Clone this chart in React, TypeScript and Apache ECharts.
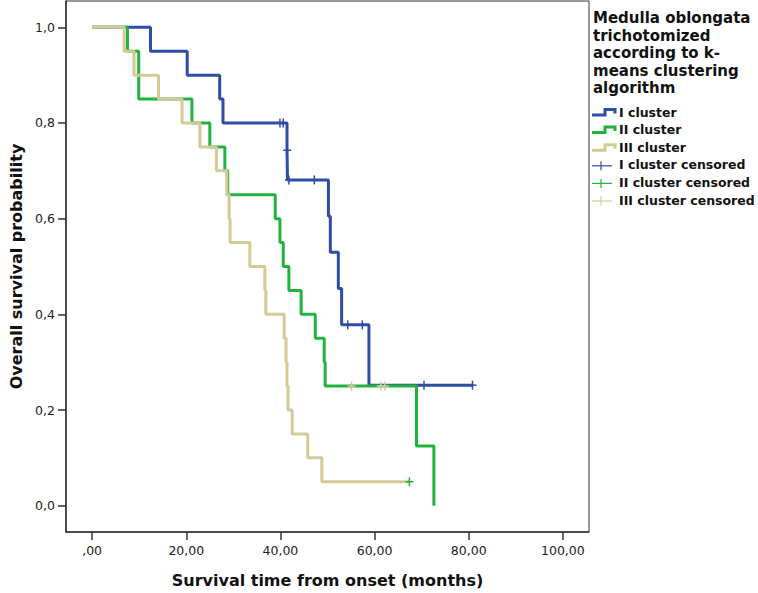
import React, { useEffect, useRef } from "react";
import * as echarts from "echarts";

// ---- data ----
const xTicks = [0, 20, 40, 60, 80, 100];
const yTicks = [0, 0.2, 0.4, 0.6, 0.8, 1.0];

const seriesNames = ["I cluster", "II cluster", "III cluster"];
const censorNames = ["I cluster censored", "II cluster censored", "III cluster censored"];
const legendTitle = ["Medulla oblongata", "trichotomized", "according to k-", "means clustering", "algorithm"];

// [time (months), survival probability]
const clusterI = [
  [0, 1], [12.4, 0.95], [20.2, 0.9], [27.1, 0.85], [27.8, 0.8], [41.4, 0.743], [41.5, 0.681],
  [50.2, 0.605], [50.6, 0.53], [52.3, 0.454], [53.0, 0.378], [58.8, 0.252], [80.8, 0.252],
];
const clusterII = [
  [0, 1], [7.5, 0.95], [9.9, 0.85], [21.2, 0.8], [25.0, 0.75], [28.2, 0.7], [28.8, 0.65],
  [38.9, 0.6], [39.9, 0.55], [40.6, 0.5], [41.8, 0.45], [44.4, 0.4], [47.4, 0.35], [49.3, 0.3],
  [49.5, 0.25], [68.9, 0.125], [72.6, 0],
];
const clusterIII = [
  [0, 1], [6.8, 0.95], [8.9, 0.9], [14.1, 0.85], [19.1, 0.8], [22.9, 0.75], [26.4, 0.7],
  [28.6, 0.65], [29.1, 0.6], [29.3, 0.55], [33.5, 0.5], [36.7, 0.45], [36.9, 0.4], [40.8, 0.35],
  [41.2, 0.3], [41.4, 0.25], [41.6, 0.2], [42.5, 0.15], [45.8, 0.1], [48.8, 0.05], [67.4, 0.05],
];
// censor marks, grouped by the colour they have in the picture
const censorI = [
  [39.9, 0.8], [40.6, 0.8], [41.45, 0.743], [41.8, 0.681], [47.2, 0.681],
  [54.3, 0.378], [57.4, 0.378], [70.5, 0.252], [80.8, 0.252],
];
const censorII = [[67.4, 0.05]];
const censorIII = [[55.1, 0.25], [61.3, 0.25], [62.2, 0.25]];

const colors = ["#2e4da6", "#22b33e", "#d4ca96"];
const FONT = "DejaVu Sans";

function censorSeries(name: string, data: number[][], color: string) {
  return {
    name,
    type: "custom",
    data,
    encode: { x: 0, y: 1 },
    z: 10,
    renderItem: (_p: any, api: any) => {
      const p = api.coord([api.value(0), api.value(1)]);
      return {
        type: "group",
        children: [
          { type: "line", shape: { x1: p[0] - 4, y1: p[1], x2: p[0] + 4, y2: p[1] }, style: { stroke: color, lineWidth: 1.5 } },
          { type: "line", shape: { x1: p[0], y1: p[1] - 4.5, x2: p[0], y2: p[1] + 4.5 }, style: { stroke: color, lineWidth: 1.5 } },
        ],
      };
    },
  };
}

function curveSeries(name: string, data: number[][], color: string, z: number) {
  return {
    name,
    type: "line",
    step: "end",
    data,
    showSymbol: false,
    symbol: "none",
    z,
    lineStyle: { color, width: 3 },
    itemStyle: { color },
  };
}

export default function App() {
  const ref = useRef<HTMLDivElement>(null);
  useEffect(() => {
    if (!ref.current) return;
    const chart = echarts.init(ref.current, undefined, { renderer: "svg" });

    const legendX = 593;
    const itemX = 619;
    const graphics: any[] = [];
    legendTitle.forEach((t, i) => {
      graphics.push({
        type: "text",
        left: legendX,
        top: 19.5 + i * 17.5 - 9,
        style: { text: t, font: `bold 15px "${FONT}"`, fill: "#111" },
      });
    });
    const rowY = [113, 130.6, 148.2, 165.8, 183.4, 201];
    seriesNames.forEach((n, i) => {
      const y = rowY[i];
      graphics.push({
        type: "polyline",
        shape: { points: [[592, y + 2], [605, y + 2], [605, y - 3.5], [615, y - 3.5], [615, y + 0.5]] },
        style: { stroke: colors[i], lineWidth: 3, fill: null },
      });
      graphics.push({
        type: "text",
        left: itemX,
        top: y - 7.5,
        style: { text: n, font: `bold 12.5px "${FONT}"`, fill: "#111" },
      });
    });
    censorNames.forEach((n, i) => {
      const y = rowY[i + 3];
      graphics.push({ type: "line", shape: { x1: 592, y1: y, x2: 612, y2: y }, style: { stroke: colors[i], lineWidth: 1.2 } });
      graphics.push({ type: "line", shape: { x1: 601, y1: y - 4.5, x2: 601, y2: y + 4.5 }, style: { stroke: colors[i], lineWidth: 1.2 } });
      graphics.push({
        type: "text",
        left: itemX,
        top: y - 7.5,
        style: { text: n, font: `bold 12.5px "${FONT}"`, fill: "#111" },
      });
    });

    chart.setOption({
      animation: false,
      backgroundColor: "#fff",
      textStyle: { fontFamily: FONT },
      grid: { left: 59, right: 169, top: 1, bottom: 60, show: true, borderColor: "#333", borderWidth: 1, backgroundColor: "transparent" },
      xAxis: {
        type: "value",
        min: -5.55,
        max: 105.55,
        name: "Survival time from onset (months)",
        nameLocation: "middle",
        nameGap: 40,
        nameTextStyle: { fontFamily: FONT, fontWeight: "bold", fontSize: 16, color: "#111" },
        axisLine: { show: true, onZero: false, lineStyle: { color: "#333", width: 1.5 } },
        axisTick: { show: true, length: 8, customValues: xTicks, lineStyle: { color: "#333", width: 1.5 } },
        axisLabel: {
          customValues: xTicks,
          margin: 12,
          fontSize: 12.5,
          fontFamily: FONT,
          color: "#222",
          formatter: (v: number) => (v === 0 ? ",00" : v.toFixed(2).replace(".", ",")),
        },
        splitLine: { show: false },
      },
      yAxis: {
        type: "value",
        min: -0.055,
        max: 1.055,
        name: "Overall survival probability",
        nameLocation: "middle",
        nameGap: 42,
        nameRotate: 90,
        nameTextStyle: { fontFamily: FONT, fontWeight: "bold", fontSize: 16, color: "#111" },
        axisLine: { show: true, onZero: false, lineStyle: { color: "#333", width: 1.5 } },
        axisTick: { show: true, length: 8, customValues: yTicks, lineStyle: { color: "#333", width: 1.5 } },
        axisLabel: {
          customValues: yTicks,
          margin: 11,
          fontSize: 12.5,
          fontFamily: FONT,
          color: "#222",
          formatter: (v: number) => v.toFixed(1).replace(".", ","),
        },
        splitLine: { show: false },
      },
      series: [
        curveSeries(seriesNames[0], clusterI, colors[0], 2),
        curveSeries(seriesNames[1], clusterII, colors[1], 3),
        curveSeries(seriesNames[2], clusterIII, colors[2], 4),
        censorSeries(censorNames[0], censorI, colors[0]),
        censorSeries(censorNames[1], censorII, colors[1]),
        censorSeries(censorNames[2], censorIII, colors[2]),
      ],
      graphic: graphics,
    });
    return () => chart.dispose();
  }, []);
  return <div ref={ref} style={{ position: "fixed", left: 0, top: 0, width: 758, height: 593 }} />;
}
